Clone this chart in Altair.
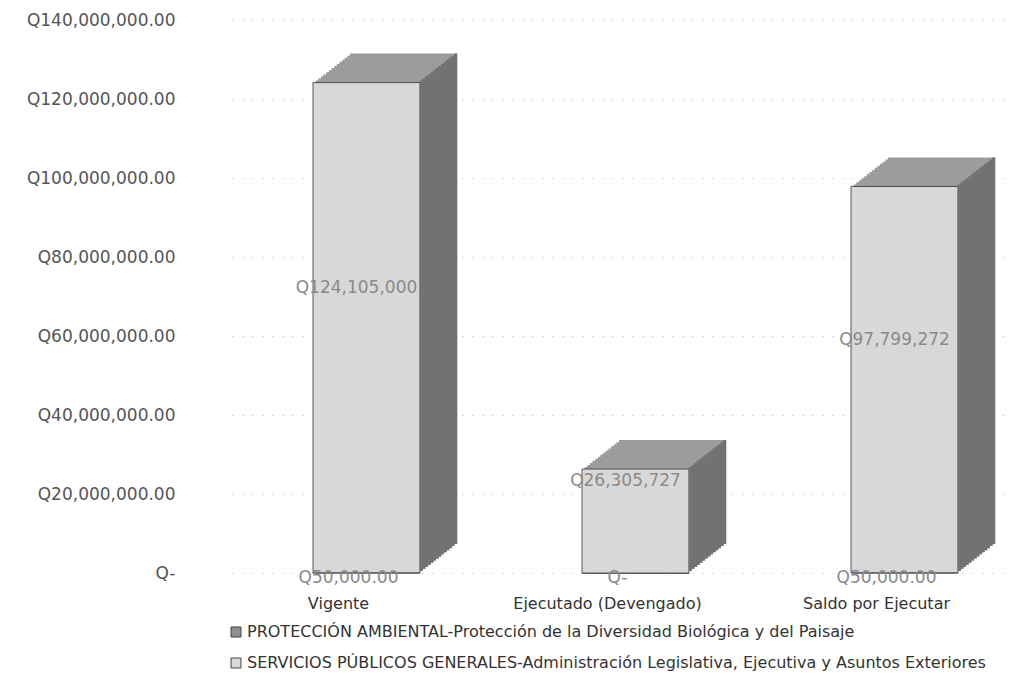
import altair as alt
import pandas as pd

categories = ["Vigente", "Ejecutado (Devengado)", "Saldo por Ejecutar"]
series_names = [
    "PROTECCIÓN AMBIENTAL-Protección de la Diversidad Biológica y del Paisaje",
    "SERVICIOS PÚBLICOS GENERALES-Administración Legislativa, Ejecutiva y Asuntos Exteriores",
]
proteccion = [50000, 0, 50000]
servicios = [124105000, 26305727, 97799272]
y_ticks = [0, 20000000, 40000000, 60000000, 80000000, 100000000, 120000000, 140000000]

series_colors = ["#8f8f8f", "#d8d8d8"]
TOP = "#9c9c9c"
SIDE = "#727272"
FONT = "DejaVu Sans"

rows = []
for i, c in enumerate(categories):
    rows.append({"cat": c, "series": series_names[0], "value": proteccion[i], "order": 0})
    rows.append({"cat": c, "series": series_names[1], "value": servicios[i], "order": 1})
df = pd.DataFrame(rows)

tot = pd.DataFrame({
    "cat": categories,
    "total": [p + s for p, s in zip(proteccion, servicios)],
})

lab_serv = pd.DataFrame({
    "cat": categories,
    "pos": [p + s / 2 for p, s in zip(proteccion, servicios)],
    "txt": ["Q{:,.0f}".format(s) for s in servicios],
})
lab_prot = pd.DataFrame({
    "cat": categories,
    "pos": [0 for _ in proteccion],
    "txt": [("Q{:,.2f}".format(p) if p else "Q-") for p in proteccion],
})

BAR_W = 107
N = 14
DX = 37.0 / N
DY = 29.0 / N

xscale = alt.Scale(domain=categories, range=[12, 819], paddingInner=0, paddingOuter=0)
yscale = alt.Scale(domain=[0, 140000000], nice=False, zero=True)

xaxis = alt.Axis(
    title=None, labelAngle=0, domain=False, ticks=False, grid=False,
    labelPadding=22, labelOffset=-28, labelFont=FONT, labelFontSize=16,
    labelColor="#333333", labelLimit=400,
)
yaxis = alt.Axis(
    title=None, values=y_ticks, domain=False, ticks=False, grid=True,
    gridDash=[1, 9], gridColor="#999999", gridOpacity=0.7, gridWidth=1,
    labelExpr="datum.value == 0 ? 'Q-' : 'Q' + format(datum.value, ',.2f')",
    labelPadding=45, labelFont=FONT, labelFontSize=17, labelColor="#555555",
    labelLimit=300,
)

X = alt.X("cat:N", scale=xscale, sort=categories, axis=xaxis)
YT = alt.Y("total:Q", scale=yscale, axis=yaxis)

top_layers = []
side_layers = []
for k in range(N, 0, -1):
    top_layers.append(
        alt.Chart(tot).mark_bar(width=BAR_W, xOffset=k * DX, yOffset=-k * DY, color=TOP)
        .encode(x=X, y=YT)
    )
    side_layers.append(
        alt.Chart(tot).mark_bar(width=DX + 0.6, xOffset=BAR_W / 2 + (k - 0.5) * DX,
                                yOffset=-k * DY, color=SIDE)
        .encode(x=X, y=YT)
    )

front = alt.Chart(df).mark_bar(width=BAR_W, stroke="#333333", strokeWidth=0.8).encode(
    x=X,
    y=alt.Y("value:Q", stack="zero", scale=yscale, axis=yaxis),
    color=alt.Color(
        "series:N",
        scale=alt.Scale(domain=series_names, range=series_colors),
        legend=alt.Legend(
            title=None, orient="none", legendX=8, legendY=604, direction="vertical",
            symbolType="square", symbolSize=100, symbolStrokeColor="#444444",
            symbolStrokeWidth=1, labelFont=FONT, labelFontSize=16, labelOffset=3,
            labelColor="#333333", labelLimit=0, rowPadding=15, padding=0,
        ),
    ),
    order=alt.Order("order:Q"),
)

text_serv = alt.Chart(lab_serv).mark_text(
    font=FONT, fontSize=17, color="#8a8a8a", dy=-40, dx=-10,
).encode(x=X, y=alt.Y("pos:Q", scale=yscale, axis=yaxis), text="txt:N")

text_prot = alt.Chart(lab_prot).mark_text(
    font=FONT, fontSize=17, color="#8a8a8a", dy=5, dx=-18,
).encode(x=X, y=alt.Y("pos:Q", scale=yscale, axis=yaxis), text="txt:N")

chart = alt.layer(*top_layers, front, text_serv, text_prot, *side_layers).properties(
    width=780,
    height=553,
    autosize=alt.AutoSizeParams(type="none"),
    padding={"left": 212, "top": 12, "right": 8, "bottom": 105},
).configure_view(stroke=None)

chart.save("out.html", embed_options={"renderer": "svg", "actions": False})
